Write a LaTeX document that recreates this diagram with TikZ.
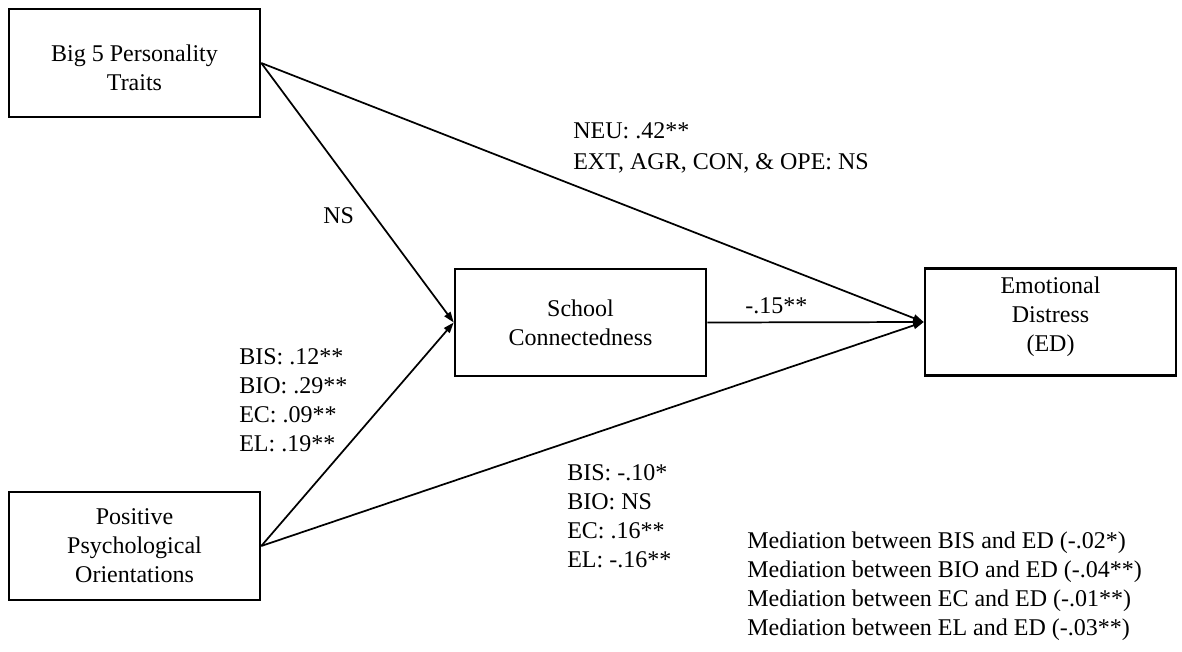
\documentclass[tikz,border=0pt]{standalone}
\usepackage{fontspec}
\setmainfont{Liberation Serif}
\usetikzlibrary{arrows.meta}
\begin{document}
\begin{tikzpicture}[x=0.75pt,y=-0.75pt,
  font=\fontsize{18}{21.75}\selectfont,
  box/.style={draw,line width=1.9pt,inner sep=0pt,minimum width=188.25pt},
  boxtext/.style={align=center,inner sep=0pt},
  lbl/.style={anchor=north west,align=left,inner sep=0pt},
  path/.style={line width=1.3pt,-{Triangle[length=8pt,width=5.5pt]}}]
\useasboundingbox (0,0) rectangle (1182,651);
\node[box,minimum height=81pt] (big5) at (134.5,63) {};
\node[boxtext] (big5t) at (134.5,68) {Big 5 Personality\\Traits};
\node[box,minimum height=81pt] (pos) at (134.5,546) {};
\node[boxtext] (post) at (134.5,546) {Positive\\Psychological\\Orientations};
\node[box,minimum height=80.5pt] (school) at (580.5,322.5) {};
\node[boxtext] (schoolt) at (580.5,322.5) {School\\Connectedness};
\node[box,minimum height=80pt] (ed) at (1050.5,322) {};
\node[boxtext] (edt) at (1050.5,317) {Emotional\\Distress\\(ED)};
\draw[path] (big5.east) -- (school.west);
\draw[path] (pos.east) -- (school.west);
\draw[path] (big5.east) -- (ed.west);
\draw[path] (pos.east) -- (ed.west);
\draw[path] (school.east) -- (ed.west);
\node[lbl,font=\fontsize{18}{23.5}\selectfont] (neu) at (573,122) {NEU: .42**\\EXT, AGR, CON, \& OPE: NS};
\node[lbl] (ns) at (323,207) {NS};
\node[lbl] (sc) at (745,297) {-.15**};
\node[lbl] (posc) at (239,348) {BIS: .12**\\BIO: .29**\\EC: .09**\\EL: .19**};
\node[lbl] (pose) at (567,464) {BIS: -.10*\\BIO: NS\\EC: .16**\\EL: -.16**};
\node[lbl] (med) at (747,532) {Mediation between BIS and ED (-.02*)\\Mediation between BIO and ED (-.04**)\\Mediation between EC and ED (-.01**)\\Mediation between EL and ED (-.03**)};
\end{tikzpicture}
\end{document}
